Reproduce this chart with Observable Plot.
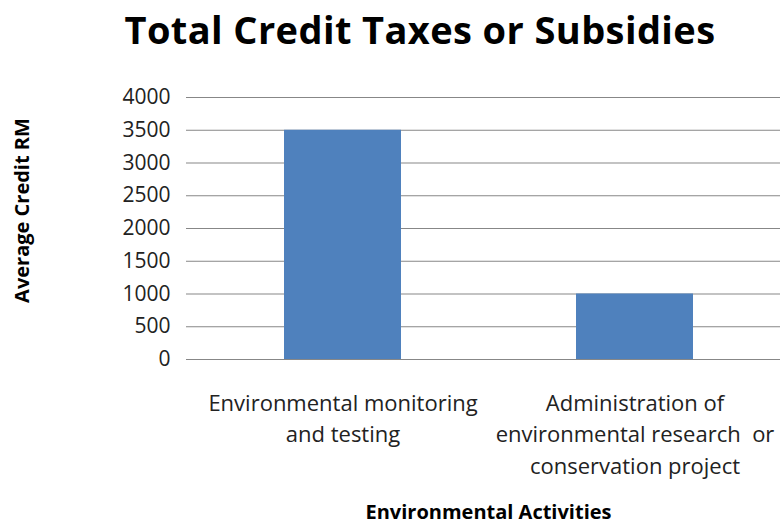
<!DOCTYPE html>
<html>
<head>
<meta charset="utf-8">
<script src="https://cdn.jsdelivr.net/npm/d3@7"></script>
<script src="https://cdn.jsdelivr.net/npm/@observablehq/plot@0.6"></script>
<style>
  html, body { margin: 0; padding: 0; background: #fff; }
  #wrap { position: relative; width: 780px; height: 531px; font-family: "Open Sans", Lato, sans-serif; }
  #title { position: absolute; left: 0; top: 0; width: 840px; height: 80px; text-align: center; font-weight: bold; font-size: 38px; line-height: 58px; color: #000; letter-spacing: 0.4px; }
  #chart { position: absolute; left: 0; top: 80px; }
</style>
</head>
<body>
<div id="wrap">
  <div id="title">Total Credit Taxes or Subsidies</div>
  <div id="chart"></div>
</div>
<script>
const categories = ["Environmental monitoring\nand testing", "Administration of\nenvironmental research  or\nconservation project"];
const values = [3500, 1000];
const yTicks = [0, 500, 1000, 1500, 2000, 2500, 3000, 3500, 4000];
const yLabel = "Average Credit RM";
const xLabel = "Environmental Activities";

const data = categories.map((c, i) => ({category: c, value: values[i]}));
const gridColor = "#878787";

const plot = Plot.plot({
  width: 780,
  height: 451,
  marginTop: 17,
  marginBottom: 172,
  marginLeft: 196,
  marginRight: 0,
  style: {fontFamily: "'Open Sans', Lato, sans-serif", fontSize: "20px", color: "#222", overflow: "visible"},
  x: {domain: categories, paddingInner: 0.6, paddingOuter: 0.3, label: null},
  y: {domain: [0, 4000], ticks: yTicks, label: null},
  marks: [
    Plot.ruleY(yTicks, {stroke: gridColor, strokeWidth: 1.2, strokeOpacity: 1}),
    Plot.barY(data, {x: "category", y: "value", fill: "#4F81BD"}),
    Plot.ruleX([0], {frameAnchor: "left", stroke: gridColor, strokeWidth: 1.2}),
    Plot.axisY({ticks: yTicks, tickSize: 10, tickPadding: 16, tickFormat: d3.format("d"), stroke: gridColor, strokeOpacity: 1, fontSize: 21, label: null}),
    Plot.axisX({tickSize: 0, tickPadding: 29, lineHeight: 1.43, fontSize: 22, label: null, textOverflow: null}),
    Plot.text([yLabel], {frameAnchor: "left", textAnchor: "middle", dx: -174, dy: -18, rotate: -90, fontWeight: "bold", fontSize: 20, fill: "#000"}),
    Plot.text([xLabel], {frameAnchor: "bottom", dy: 159, fontWeight: "bold", fontSize: 20, fill: "#000"})
  ]
});
document.getElementById("chart").appendChild(plot);
</script>
</body>
</html>
